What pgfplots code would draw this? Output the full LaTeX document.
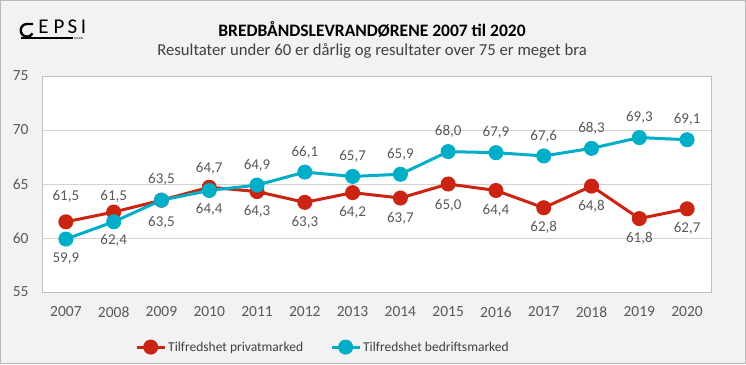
\documentclass[border=0pt]{standalone}
\usepackage{pgfplots}
\pgfplotsset{compat=1.18}
\usepackage{fontspec}
\setmainfont{Carlito}
\definecolor{rd}{RGB}{204,36,18}
\definecolor{bl}{RGB}{0,174,199}
\definecolor{txt}{RGB}{89,89,89}
\definecolor{bg}{RGB}{242,242,242}
\definecolor{grd}{RGB}{217,208,208}
\begin{document}
\begin{tikzpicture}
\fill[bg] (0pt,0pt) rectangle (746pt,364pt);
\draw[black!28, line width=1pt] (0.5pt,0.5pt) rectangle (745.5pt,363.5pt);
% logo
\draw[line width=2.3pt] (33pt,340pt) -- (27pt,340pt) arc (90:330:6.3pt);
\foreach \l/\xx in {E/43.5,P/59,S/72.5,I/83.5}
  \node[anchor=base, inner sep=0pt, font=\fontsize{21}{22}\selectfont] at (\xx pt,330pt) {\l};
\draw[line width=1.2pt] (21pt,326pt) -- (73pt,326pt);
\node[anchor=west, inner sep=0pt, font=\fontsize{3}{3}\selectfont] at (74pt,325pt) {RATING};
\begin{axis}[at={(42pt,72pt)}, anchor=south west, scale only axis,
  width=669pt, height=216pt,
  xmin=2006.5, xmax=2020.5, ymin=55, ymax=75,
  ytick={55,60,...,75}, xtick={2007,...,2020},
  axis background/.style={fill=white},
  ymajorgrids, grid style={grd, line width=0.8pt},
  axis line style={black!25, line width=1pt},
  major tick length=0pt,
  /pgf/number format/assume math mode=true,
  tick label style={font=\fontsize{15.5}{17}\selectfont, text=txt},
  x tick label style={/pgf/number format/1000 sep={}, yshift=-11pt},
  y tick label style={xshift=-10pt},
  legend style={at={(0.42,-0.255)}, anchor=center, draw=none, fill=none,
    font=\fontsize{13.5}{16}\selectfont, text=black!75,
    /tikz/every even column/.append style={column sep=25pt}},
  legend columns=2,
  legend image code/.code={\draw[mark repeat=2,mark phase=2,#1] plot coordinates {(0pt,0pt) (14pt,0pt) (28pt,0pt)};},
  clip=false,
]
\addplot[rd, line width=3pt, mark=*, mark size=6pt, mark options={solid},
  nodes near coords, point meta=explicit symbolic,
  visualization depends on={\thisrow{dy} \as \dy},
  every node near coord/.append style={anchor=center, yshift=\dy pt, text=txt, font=\fontsize{15}{17}\selectfont}]
  table[x=year, y=val, meta=lab] {
year val lab dy
2007 61.5 61,5 25
2008 62.4 61,5 16
2009 63.5 63,5 21
2010 64.7 64,7 19
2011 64.3 64,3 -20
2012 63.3 63,3 -20
2013 64.2 64,2 -20
2014 63.7 63,7 -20
2015 65.0 65,0 -21
2016 64.4 64,4 -20
2017 62.8 62,8 -20
2018 64.8 64,8 -20
2019 61.8 61,8 -20
2020 62.7 62,7 -20
};
\addlegendentry{Tilfredshet privatmarked}
\addplot[bl, line width=3pt, mark=*, mark size=6pt, mark options={solid},
  nodes near coords, point meta=explicit symbolic,
  visualization depends on={\thisrow{dy} \as \dy},
  every node near coord/.append style={anchor=center, yshift=\dy pt, text=txt, font=\fontsize{15}{17}\selectfont}]
  table[x=year, y=val, meta=lab] {
year val lab dy
2007 59.9 59,9 -20
2008 61.5 62,4 -19
2009 63.5 63,5 -22
2010 64.4 64,4 -19
2011 64.9 64,9 20
2012 66.1 66,1 20
2013 65.7 65,7 20
2014 65.9 65,9 20
2015 68.0 68,0 20
2016 67.9 67,9 20
2017 67.6 67,6 20
2018 68.3 68,3 20
2019 69.3 69,3 20
2020 69.1 69,1 20
};
\addlegendentry{Tilfredshet bedriftsmarked}
\end{axis}
\node[font=\bfseries\fontsize{17.5}{19}\selectfont] at (372pt,335pt) {BREDBÅNDSLEVRANDØRENE 2007 til 2020};
\node[font=\fontsize{16.7}{18}\selectfont, text=black!75] at (372pt,313pt) {Resultater under 60 er dårlig og resultater over 75 er meget bra};
\end{tikzpicture}
\end{document}
